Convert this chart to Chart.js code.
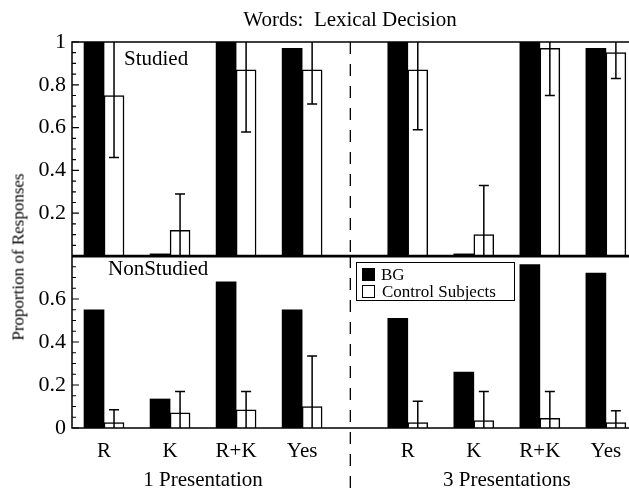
<!DOCTYPE html>
<html>
<head>
<meta charset="utf-8">
<script src="https://cdn.jsdelivr.net/npm/chart.js@4.4.0/dist/chart.umd.min.js"></script>
<style>
  body { margin: 0; background: #fff; }
  #wrap { position: relative; width: 629px; height: 489px; overflow: hidden; font-family: 'Liberation Serif', 'Times New Roman', serif; color: #000; }
  canvas { position: absolute; left: 0; }
  #topPanel { top: 0; }
  #bottomPanel { top: 256px; }
  .lbl { position: absolute; white-space: nowrap; line-height: 1; }
  #legend { position: absolute; left: 356px; top: 262px; width: 157px; height: 37px; border: 1.5px solid #000; background: #fff; }
  .sw { position: absolute; left: 5px; width: 13px; height: 13px; box-sizing: border-box; }
</style>
</head>
<body>
<div id="wrap">
  <canvas id="topPanel" width="629" height="256"></canvas>
  <canvas id="bottomPanel" width="629" height="233"></canvas>

  <div class="lbl" style="left:350px; top:9px; font-size:21px; transform:translateX(-50%);">Words:&nbsp; Lexical Decision</div>
  <div class="lbl" style="left:124px; top:48px; font-size:21px;">Studied</div>
  <div class="lbl" style="left:108px; top:258px; font-size:21px;">NonStudied</div>
  <div class="lbl" style="left:18px; top:257px; font-size:17px; transform:translate(-50%,-50%) rotate(-90deg);">Proportion of Responses</div>
  <div class="lbl" id="group1" style="top:469px; font-size:21px; transform:translateX(-50%);"></div>
  <div class="lbl" id="group2" style="top:469px; font-size:21px; transform:translateX(-50%);"></div>

  <div id="legend">
    <div class="sw" style="top:5px; background:#000;"></div>
    <div class="lbl" style="left:24px; top:3px; font-size:17px;">BG</div>
    <div class="sw" style="top:22px; border:1.5px solid #000; background:#fff;"></div>
    <div class="lbl" style="left:25px; top:20px; font-size:17px;">Control Subjects</div>
  </div>
</div>

<script>
// categories and x slots (gap between the two presentation groups)
const categories = ['R', 'K', 'R+K', 'Yes', 'R', 'K', 'R+K', 'Yes'];
const xPositions = [0, 1, 2, 3, 4.6, 5.6, 6.6, 7.6];
const groupLabels = ['1 Presentation', '3 Presentations'];
const dividerAt = 3.73;

// Studied items
const studiedBG = [1.0, 0.01, 1.0, 0.97, 1.0, 0.01, 1.0, 0.97];
const studiedControl = [0.75, 0.12, 0.87, 0.87, 0.87, 0.10, 0.97, 0.95];
const studiedControlErr = [0.29, 0.17, 0.29, 0.16, 0.28, 0.23, 0.22, 0.12];

// NonStudied items
const nonStudiedBG = [0.55, 0.135, 0.68, 0.55, 0.51, 0.26, 0.76, 0.72];
const nonStudiedControl = [0.025, 0.07, 0.085, 0.10, 0.025, 0.035, 0.045, 0.025];
const nonStudiedControlErr = [0.06, 0.10, 0.085, 0.235, 0.10, 0.135, 0.125, 0.055];

const studiedTickLabels = [0.2, 0.4, 0.6, 0.8, 1];
const nonStudiedTickLabels = [0, 0.2, 0.4, 0.6];

const X_MIN = -0.485, X_MAX = 7.95;
const serif = "'Liberation Serif', 'Times New Roman', serif";

const errorBars = {
  id: 'errorBars',
  afterDatasetsDraw(chart) {
    const ctx = chart.ctx;
    const y = chart.scales.y;
    const ds = chart.data.datasets[1];
    const meta = chart.getDatasetMeta(1);
    ctx.save();
    ctx.strokeStyle = '#000';
    ctx.lineWidth = 1.5;
    meta.data.forEach((bar, i) => {
      const v = ds.data[i].y, e = ds.errors[i];
      const lo = Math.max(v - e, y.min), hi = Math.min(v + e, y.max);
      const yLo = y.getPixelForValue(lo), yHi = y.getPixelForValue(hi);
      ctx.beginPath();
      ctx.moveTo(bar.x, yLo);
      ctx.lineTo(bar.x, yHi);
      if (v + e < y.max) { ctx.moveTo(bar.x - 5, yHi); ctx.lineTo(bar.x + 5, yHi); }
      if (v - e > y.min) { ctx.moveTo(bar.x - 5, yLo); ctx.lineTo(bar.x + 5, yLo); }
      ctx.stroke();
    });
    ctx.restore();
  }
};

// frame, inward ticks and dashed divider
const panelDecor = {
  id: 'panelDecor',
  afterDraw(chart) {
    const ctx = chart.ctx, a = chart.chartArea;
    const y = chart.scales.y, x = chart.scales.x;
    const isTop = chart.canvas.id === 'topPanel';
    ctx.save();
    ctx.strokeStyle = '#000';
    ctx.lineWidth = 1.5;
    ctx.beginPath();
    if (isTop) {
      ctx.moveTo(a.right, a.top); ctx.lineTo(a.left, a.top);
      ctx.lineTo(a.left, a.bottom - 0.5); ctx.lineTo(a.right, a.bottom - 0.5);
    } else {
      ctx.moveTo(a.right, a.top + 0.75); ctx.lineTo(a.left, a.top + 0.75);
      ctx.lineTo(a.left, a.bottom); ctx.lineTo(a.right, a.bottom);
    }
    ctx.stroke();

    ctx.lineWidth = 1.2;
    ctx.beginPath();
    y.ticks.forEach(t => {
      const py = y.getPixelForValue(t.value);
      const major = Math.abs(t.value / 0.2 - Math.round(t.value / 0.2)) < 1e-6;
      ctx.moveTo(a.left, py);
      ctx.lineTo(a.left + (major ? 7 : 4), py);
    });
    ctx.stroke();

    const dx = x.getPixelForValue(dividerAt);
    ctx.setLineDash([12, 10]);
    ctx.lineWidth = 1.3;
    ctx.beginPath();
    ctx.moveTo(dx, isTop ? a.top : 0);
    ctx.lineTo(dx, chart.height);
    ctx.stroke();
    ctx.restore();
  }
};

function makePanel(id, bgVals, ctrlVals, ctrlErr, yMax, tickLabels, showX) {
  return new Chart(document.getElementById(id), {
    type: 'bar',
    data: {
      datasets: [{
        label: 'BG',
        data: xPositions.map((xv, i) => ({ x: xv, y: bgVals[i] })),
        backgroundColor: '#000',
        borderWidth: 0,
        barThickness: 20
      }, {
        label: 'Control Subjects',
        data: xPositions.map((xv, i) => ({ x: xv, y: ctrlVals[i] })),
        errors: ctrlErr,
        backgroundColor: '#fff',
        borderColor: '#000',
        borderWidth: 1.5,
        barThickness: 20
      }]
    },
    options: {
      responsive: false,
      animation: false,
      layout: { padding: { top: showX ? 0 : 42, left: 0, right: 0, bottom: 0 } },
      plugins: { legend: { display: false }, tooltip: { enabled: false } },
      scales: {
        x: {
          type: 'linear',
          min: X_MIN,
          max: X_MAX,
          offset: false,
          display: showX,
          afterBuildTicks: s => { s.ticks = xPositions.map(v => ({ value: v })); },
          afterFit: s => {
            s.height = showX ? 61 : 0;
            s.paddingLeft = 0; s.paddingRight = 0;
          },
          grid: { display: false, drawTicks: false },
          border: { display: false },
          ticks: {
            autoSkip: false,
            maxRotation: 0,
            padding: 11,
            color: '#000',
            font: { family: serif, size: 21 },
            callback: (v, i) => categories[i]
          }
        },
        y: {
          min: 0,
          max: yMax,
          afterBuildTicks: s => {
            s.ticks = [];
            for (let i = 0; i <= Math.round(yMax / 0.05); i++) s.ticks.push({ value: +(i * 0.05).toFixed(2) });
          },
          afterFit: s => { s.width = 72; s.paddingTop = 0; s.paddingBottom = 0; },
          grid: { display: false, drawTicks: false },
          border: { display: false },
          ticks: {
            autoSkip: false,
            padding: 6,
            color: '#000',
            font: { family: serif, size: 22 },
            callback: v => tickLabels.includes(v) ? String(v) : ''
          }
        }
      }
    },
    plugins: [errorBars, panelDecor]
  });
}

makePanel('topPanel', studiedBG, studiedControl, studiedControlErr, 1, studiedTickLabels, false);
const bottom = makePanel('bottomPanel', nonStudiedBG, nonStudiedControl, nonStudiedControlErr, 0.8, nonStudiedTickLabels, true);

// group captions centred under each set of four categories
const xs = bottom.scales.x;
const g1 = document.getElementById('group1');
const g2 = document.getElementById('group2');
g1.textContent = groupLabels[0];
g2.textContent = groupLabels[1];
g1.style.left = ((xs.getPixelForValue(xPositions[0]) + xs.getPixelForValue(xPositions[3])) / 2) + 'px';
g2.style.left = ((xs.getPixelForValue(xPositions[4]) + xs.getPixelForValue(xPositions[7])) / 2) + 'px';
</script>
</body>
</html>
